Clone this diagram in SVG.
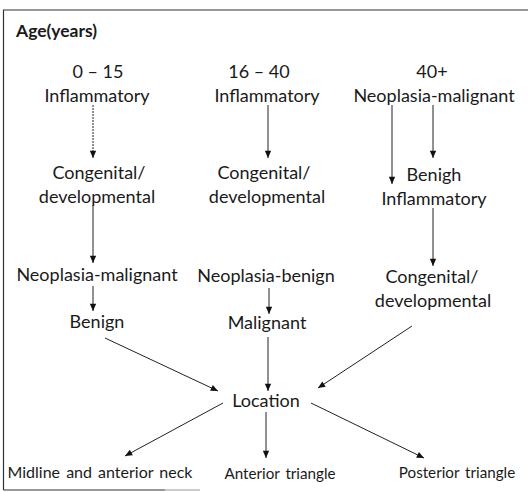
<svg xmlns="http://www.w3.org/2000/svg" width="528" height="492" viewBox="0 0 528 492">
<defs>
<marker id="ah" viewBox="0 0 8 10" refX="8" refY="5" markerWidth="8" markerHeight="9" markerUnits="userSpaceOnUse" orient="auto">
<path d="M0,1.5 L8,5 L0,8.5 Z" fill="#111"/>
</marker>
<style>
text{font-family:Lato,"Open Sans","Liberation Sans",sans-serif;font-size:18px;fill:#1a1a1a;text-anchor:middle}
.b{font-weight:bold;text-anchor:start;font-size:17.5px}
.s{font-size:16px;word-spacing:2px}
.t{font-size:15.2px;word-spacing:2px}
.c line{stroke:#222;stroke-width:1;marker-end:url(#ah)}
.frame{stroke:#333;stroke-width:1.2;fill:none}
</style>
</defs>
<rect width="528" height="492" fill="#fff"/>
<g id="frame">
<path class="frame" d="M3.5,490 V10 H528"/>
<path class="frame" d="M3.5,490 H165"/>
<path d="M165,490 H200" stroke="#999" stroke-width="1" fill="none"/>
</g>
<g id="title"><text class="b" x="16" y="37">Age(years)</text></g>
<g id="col1-age"><text x="98" y="78">0 – 15</text><text x="97" y="102">Inflammatory</text></g>
<g id="col2-age"><text x="259" y="78">16 – 40</text><text x="267" y="102">Inflammatory</text></g>
<g id="col3-age"><text x="432" y="78">40+</text><text x="434" y="102">Neoplasia-malignant</text></g>
<g id="col1-cong"><text x="99" y="179">Congenital/</text><text x="97" y="203">developmental</text></g>
<g id="col2-cong"><text x="264" y="179">Congenital/</text><text x="267" y="203">developmental</text></g>
<g id="col3-benigh"><text x="434" y="181">Benigh</text><text x="434" y="205">Inflammatory</text></g>
<g id="col1-neo"><text x="97" y="281">Neoplasia-malignant</text></g>
<g id="col2-neo"><text x="266" y="282">Neoplasia-benign</text></g>
<g id="col3-cong"><text x="432" y="283">Congenital/</text><text x="433" y="307">developmental</text></g>
<g id="col1-benign"><text x="97" y="328">Benign</text></g>
<g id="col2-malig"><text x="267" y="329">Malignant</text></g>
<g id="location"><text x="266" y="407">Location</text></g>
<g id="midline"><text class="s" x="100" y="478">Midline and anterior neck</text></g>
<g id="anterior"><text class="t" x="280" y="479">Anterior triangle</text></g>
<g id="posterior"><text class="t" x="457" y="478">Posterior triangle</text></g>
<g id="connectors" class="c">
<line x1="93" y1="105" x2="93" y2="158" stroke-dasharray="2 1"/>
<line x1="268" y1="105" x2="268" y2="158"/>
<line x1="392" y1="105" x2="392" y2="184"/>
<line x1="433" y1="105" x2="433" y2="158"/>
<line x1="93" y1="205" x2="93" y2="263"/>
<line x1="433" y1="208" x2="433" y2="266"/>
<line x1="93" y1="286" x2="93" y2="311"/>
<line x1="269" y1="288" x2="269" y2="314"/>
<line x1="105" y1="338" x2="218" y2="391"/>
<line x1="268" y1="337" x2="268" y2="391"/>
<line x1="412" y1="326" x2="318" y2="388"/>
<line x1="223" y1="403" x2="125" y2="456"/>
<line x1="266" y1="412" x2="266" y2="458"/>
<line x1="311" y1="403" x2="424" y2="458"/>
</g>
</svg>
